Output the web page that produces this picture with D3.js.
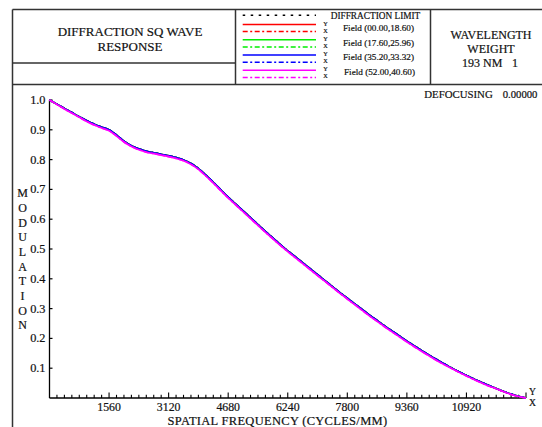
<!DOCTYPE html>
<html><head><meta charset="utf-8">
<script src="https://cdn.jsdelivr.net/npm/d3@7"></script>
<style>
html,body{margin:0;padding:0;background:#fff;}
svg{display:block;}
text{font-family:"Liberation Serif","Times New Roman",serif;fill:#111;stroke:#111;stroke-width:0.2px;}
</style></head>
<body>
<svg id="chart" width="542" height="427"></svg>
<script>
// ---------------- data ----------------
const titleLines = ["DIFFRACTION SQ WAVE", "RESPONSE"];
const wavelengthLines = ["WAVELENGTH", "WEIGHT"];
const wavelengthValue = "193 NM";
const wavelengthWeight = "1";
const defocusLabel = "DEFOCUSING";
const defocusValue = "0.00000";
const xAxisTitle = "SPATIAL FREQUENCY (CYCLES/MM)";
const yAxisTitle = "MODULATION";
const fieldLabels = ["Field (00.00,18.60)", "Field (17.60,25.96)", "Field (35.20,33.32)", "Field (52.00,40.60)"];
const fieldColors = ["#ff0000", "#00ee00", "#0000ff", "#ff00ff"];
const xTickValues = [1560, 3120, 4680, 6240, 7800, 9360, 10920];
const yTickValues = [0.1, 0.2, 0.3, 0.4, 0.5, 0.6, 0.7, 0.8, 0.9, 1.0];
const xMax = 12480;

const freqs = [0,195,390,585,780,975,1170,1365,1560,1755,1950,2145,2340,2535,2730,2925,3120,3315,3510,3705,3900,4095,4290,4485,4680,4875,5070,5265,5460,5655,5850,6045,6240,6435,6630,6825,7020,7215,7410,7605,7800,7995,8190,8385,8580,8775,8970,9165,9360,9555,9750,9945,10140,10335,10530,10725,10920,11115,11310,11505,11700,11895,12090,12285,12480];

const diffLimit = [1.000,0.986,0.972,0.958,0.944,0.931,0.919,0.909,0.900,0.882,0.862,0.847,0.836,0.828,0.823,0.818,0.813,0.807,0.799,0.787,0.770,0.748,0.724,0.699,0.674,0.651,0.628,0.605,0.582,0.559,0.537,0.515,0.494,0.474,0.454,0.434,0.414,0.394,0.374,0.354,0.335,0.316,0.297,0.278,0.260,0.242,0.225,0.208,0.191,0.175,0.159,0.144,0.129,0.115,0.101,0.088,0.076,0.064,0.053,0.042,0.032,0.022,0.013,0.006,0.000];

const field1 = [1.000,0.986,0.972,0.958,0.944,0.931,0.919,0.909,0.900,0.882,0.862,0.847,0.836,0.828,0.823,0.818,0.813,0.807,0.799,0.787,0.770,0.748,0.724,0.699,0.674,0.651,0.628,0.605,0.582,0.559,0.537,0.515,0.494,0.474,0.454,0.434,0.414,0.394,0.374,0.354,0.335,0.316,0.297,0.278,0.260,0.242,0.225,0.208,0.191,0.175,0.159,0.144,0.129,0.115,0.101,0.088,0.076,0.064,0.053,0.042,0.032,0.022,0.013,0.006,0.000];
const field2 = field1;
const field3 = [1.000,0.986,0.972,0.958,0.944,0.931,0.919,0.909,0.900,0.882,0.862,0.847,0.836,0.828,0.823,0.818,0.813,0.807,0.799,0.787,0.770,0.748,0.724,0.699,0.674,0.651,0.628,0.605,0.582,0.559,0.537,0.515,0.494,0.474,0.454,0.434,0.414,0.394,0.374,0.354,0.335,0.316,0.297,0.278,0.260,0.242,0.225,0.208,0.191,0.175,0.159,0.144,0.129,0.115,0.101,0.088,0.076,0.064,0.053,0.042,0.032,0.022,0.013,0.006,0.000];
const field4 = [1.000,0.985,0.970,0.956,0.942,0.928,0.916,0.906,0.897,0.879,0.859,0.844,0.833,0.825,0.820,0.815,0.810,0.804,0.796,0.784,0.767,0.745,0.721,0.696,0.671,0.648,0.625,0.602,0.579,0.556,0.534,0.512,0.491,0.471,0.451,0.431,0.411,0.391,0.371,0.351,0.332,0.313,0.294,0.275,0.257,0.239,0.222,0.205,0.188,0.172,0.156,0.141,0.126,0.112,0.099,0.086,0.074,0.062,0.051,0.040,0.031,0.021,0.012,0.005,0.000];
const fieldData = [field1, field2, field3, field4];

// ---------------- drawing ----------------
const svg = d3.select("#chart");
const frameColor = "#333";

// header frame
const frame = svg.append("g").attr("stroke", frameColor).attr("stroke-width", 1.5).attr("fill", "none");
frame.append("line").attr("x1", 12.5).attr("y1", 9.5).attr("x2", 542).attr("y2", 9.5);
frame.append("line").attr("x1", 12.5).attr("y1", 9.5).attr("x2", 12.5).attr("y2", 427);
frame.append("line").attr("x1", 12.5).attr("y1", 84.5).attr("x2", 542).attr("y2", 84.5);
frame.append("line").attr("x1", 12.5).attr("y1", 63).attr("x2", 235.5).attr("y2", 63);
frame.append("line").attr("x1", 235.5).attr("y1", 9.5).attr("x2", 235.5).attr("y2", 84.5);
frame.append("line").attr("x1", 430.5).attr("y1", 9.5).attr("x2", 430.5).attr("y2", 84.5);

// title
svg.selectAll("text.title").data(titleLines).enter().append("text")
  .attr("class", "title").attr("x", 130).attr("y", (d, i) => 36 + i * 14.7)
  .attr("text-anchor", "middle").style("font-size", "13px").text(d => d);

// wavelength box
svg.selectAll("text.wl").data(wavelengthLines).enter().append("text")
  .attr("class", "wl").attr("x", 491).attr("y", (d, i) => 39 + i * 14)
  .attr("text-anchor", "middle").style("font-size", "12px").text(d => d);
svg.append("text").attr("x", 462).attr("y", 66.7).style("font-size", "12px").text(wavelengthValue);
svg.append("text").attr("x", 512).attr("y", 66.7).style("font-size", "12px").text(wavelengthWeight);

// defocus
svg.append("text").attr("x", 424.3).attr("y", 98.3).style("font-size", "10.8px").text(defocusLabel);
svg.append("text").attr("x", 502.7).attr("y", 98.3).style("font-size", "10.7px").text(defocusValue);

// legend
const legX1 = 242.7, legX2 = 316;
const dotDash = "2.5,5.5";
const dashDot = "5,2.5,2,2.5";
svg.append("line").attr("x1", legX1).attr("x2", legX2).attr("y1", 15.3).attr("y2", 15.3)
  .attr("stroke", "#000").attr("stroke-width", 1.5).attr("stroke-dasharray", dotDash);
svg.append("text").attr("x", 330.7).attr("y", 19).style("font-size", "9.3px").text("DIFFRACTION LIMIT");
fieldLabels.forEach((lab, i) => {
  const ys = 24.4 + i * 15.3;
  svg.append("line").attr("x1", legX1).attr("x2", legX2).attr("y1", ys).attr("y2", ys)
    .attr("stroke", fieldColors[i]).attr("stroke-width", 1.5);
  svg.append("line").attr("x1", legX1).attr("x2", legX2).attr("y1", ys + 7.2).attr("y2", ys + 7.2)
    .attr("stroke", fieldColors[i]).attr("stroke-width", 1.5).attr("stroke-dasharray", dashDot);
  svg.append("text").attr("x", 325.6).attr("y", 26.4 + i * 15).attr("text-anchor", "middle")
    .style("font-size", "6.2px").text("Y");
  svg.append("text").attr("x", 325.6).attr("y", 33.3 + i * 15).attr("text-anchor", "middle")
    .style("font-size", "6.2px").text("X");
  svg.append("text").attr("x", 343 + (i === 3 ? 1 : 0)).attr("y", 31 + i * 14.5)
    .style("font-size", "9.2px").text(lab);
});

// scales
const x = d3.scaleLinear().domain([0, xMax]).range([49.5, 526]);
const y = d3.scaleLinear().domain([0, 1]).range([398, 100]);

// axes
const ax = svg.append("g").attr("stroke", "#000").attr("stroke-width", 1.3);
ax.append("line").attr("x1", x(0)).attr("x2", x(0)).attr("y1", y(1)).attr("y2", y(0));
ax.append("line").attr("x1", x(0)).attr("x2", x(xMax)).attr("y1", y(0)).attr("y2", y(0));

// y ticks (inside)
const yTickG = svg.append("g");
yTickG.selectAll("line").data(yTickValues).enter().append("line")
  .attr("x1", x(0)).attr("x2", x(0) + 3).attr("y1", d => y(d)).attr("y2", d => y(d))
  .attr("stroke", "#000").attr("stroke-width", 1.2);
yTickG.selectAll("text").data(yTickValues).enter().append("text")
  .attr("x", 45.5).attr("y", d => y(d) + 4).attr("text-anchor", "end")
  .style("font-size", "12.3px").text(d => d3.format(".1f")(d));

// x minor/major ticks
const minorTicks = d3.range(1, 65).map(i => i * 195);
svg.append("g").selectAll("line").data(minorTicks).enter().append("line")
  .attr("x1", d => x(d)).attr("x2", d => x(d))
  .attr("y1", y(0)).attr("y2", d => y(0) - (d % 1560 === 0 ? 5.5 : 3.2))
  .attr("stroke", "#000").attr("stroke-width", 1.1);
svg.append("g").selectAll("text").data(xTickValues).enter().append("text")
  .attr("x", d => x(d)).attr("y", 411).attr("text-anchor", "middle")
  .style("font-size", "11.8px").text(d => d);

// axis titles
svg.append("text").attr("x", 277.5).attr("y", 425.2).attr("text-anchor", "middle")
  .style("font-size", "12.5px").style("letter-spacing", "0.3px").text(xAxisTitle);
svg.selectAll("text.ylab").data(yAxisTitle.split("")).enter().append("text")
  .attr("class", "ylab").attr("x", 22.5).attr("y", (d, i) => 197.3 + i * 14.67)
  .attr("text-anchor", "middle").style("font-size", "12px").text(d => d);
svg.append("text").attr("x", 532.5).attr("y", 394.8).attr("text-anchor", "middle").style("font-size", "9.6px").text("Y");
svg.append("text").attr("x", 532.5).attr("y", 405.9).attr("text-anchor", "middle").style("font-size", "9.6px").text("X");

// curves
const line = d3.line().x((d, i) => x(freqs[i])).y(d => y(d)).curve(d3.curveCatmullRom.alpha(0.5));
svg.append("path").datum(diffLimit).attr("d", line).attr("fill", "none")
  .attr("stroke", "#000").attr("stroke-width", 1.5).attr("stroke-dasharray", dotDash);
fieldData.forEach((arr, i) => {
  svg.append("path").datum(arr).attr("d", line).attr("fill", "none")
    .attr("stroke", fieldColors[i]).attr("stroke-width", 1.6);
  svg.append("path").datum(arr).attr("d", line).attr("fill", "none")
    .attr("stroke", fieldColors[i]).attr("stroke-width", 1.6).attr("stroke-dasharray", dashDot);
});
</script>
</body></html>
